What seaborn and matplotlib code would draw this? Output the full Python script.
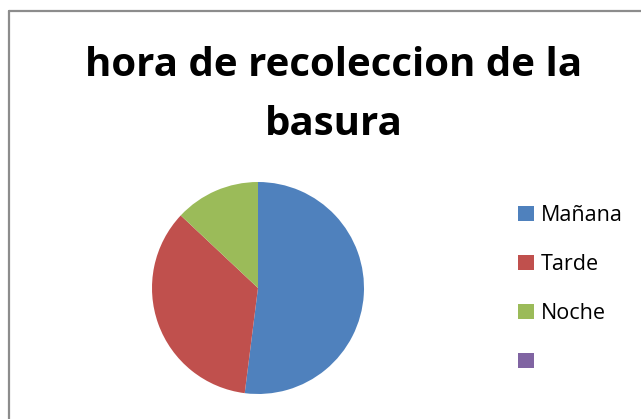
import matplotlib
matplotlib.use("Agg")
import matplotlib.pyplot as plt
import seaborn as sns
from matplotlib.lines import Line2D

categories = ["Mañana", "Tarde", "Noche", ""]
values = [52, 35, 13, 0]
colors = ["#4F81BD", "#C0504D", "#9BBB59", "#8064A2"]
title = "hora de recoleccion de la\nbasura"

sns.set_theme(style="white")
plt.rcParams["font.family"] = ["Open Sans", "DejaVu Sans"]
plt.rcParams["text.color"] = "black"

fig = plt.figure(figsize=(6.41, 4.19), dpi=100)

# chart frame (only left and top edges visible in the picture)
fig.add_artist(Line2D([9 / 641, 9 / 641], [0, 1 - 11 / 419], color="#8c8c8c", lw=1.6,
                      transform=fig.transFigure))
fig.add_artist(Line2D([9 / 641, 1], [1 - 11 / 419, 1 - 11 / 419], color="#8c8c8c", lw=1.6,
                      transform=fig.transFigure))

fig.text(334 / 641, 1 - 95 / 419, title, ha="center", va="center", fontsize=29,
         fontweight="bold", linespacing=1.65, color="black")

ax = fig.add_axes([152 / 641, 1 - 394 / 419, 212 / 641, 212 / 419])
wedges, _ = ax.pie(values, colors=colors, startangle=90, counterclock=False,
                   wedgeprops=dict(linewidth=0))
ax.set_xlim(-1, 1)
ax.set_ylim(-1, 1)
ax.set_aspect("equal")

leg = fig.legend(wedges, categories, loc="upper left", bbox_to_anchor=(518 / 641, 1 - 205 / 419),
                 frameon=False, fontsize=15.5, handlelength=0.72, handleheight=0.72,
                 handletextpad=0.35, labelspacing=1.3, borderaxespad=0, borderpad=0)
for t in leg.get_texts():
    t.set_color("black")

fig.savefig("out.png", dpi=100)
